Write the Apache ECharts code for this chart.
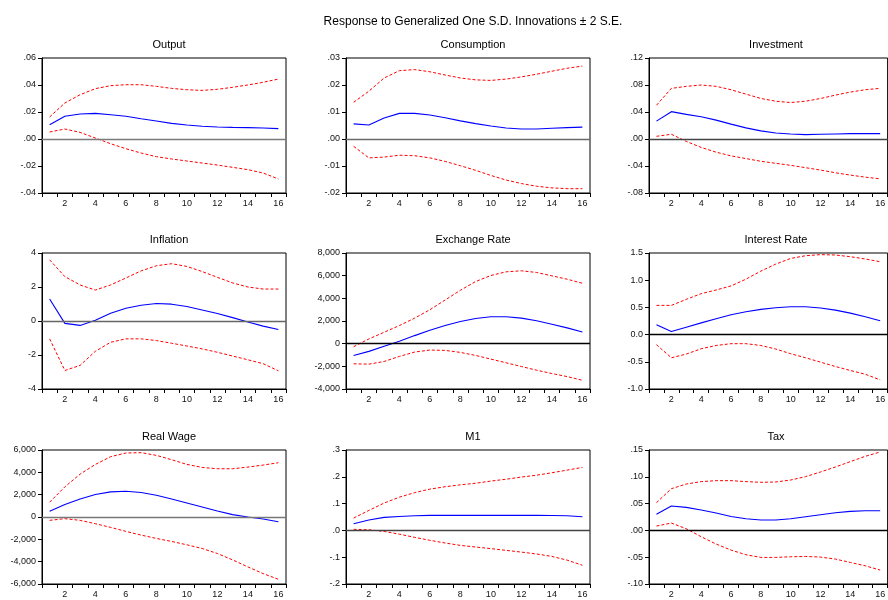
<!DOCTYPE html>
<html>
<head>
<meta charset="utf-8">
<script src="https://cdn.jsdelivr.net/npm/echarts@6/dist/echarts.min.js"></script>
<style>html,body{margin:0;padding:0;background:#fff;}#chart{width:888px;height:600px;}</style>
</head>
<body>
<div id="chart"></div>
<script>
const periods = ['1','2','3','4','5','6','7','8','9','10','11','12','13','14','15','16'];

const outputResp  = [0.0106,0.0168,0.0185,0.0190,0.0180,0.0168,0.0150,0.0133,0.0116,0.0104,0.0094,0.0089,0.0086,0.0084,0.0081,0.0077];
const outputUpper = [0.0163,0.0267,0.0328,0.0373,0.0395,0.0402,0.0402,0.0390,0.0375,0.0365,0.0360,0.0368,0.0383,0.0400,0.0420,0.0444];
const outputLower = [0.0052,0.0074,0.0049,0.0007,-0.0035,-0.0072,-0.0104,-0.0131,-0.0148,-0.0163,-0.0178,-0.0193,-0.0210,-0.0227,-0.0252,-0.0296];

const consResp  = [0.0056,0.0052,0.0078,0.0095,0.0095,0.0089,0.0079,0.0067,0.0057,0.0048,0.0041,0.0037,0.0037,0.0040,0.0042,0.0044];
const consUpper = [0.0136,0.0177,0.0226,0.0253,0.0257,0.0249,0.0237,0.0226,0.0219,0.0217,0.0222,0.0230,0.0240,0.0251,0.0262,0.0270];
const consLower = [-0.0027,-0.0070,-0.0067,-0.0060,-0.0062,-0.0070,-0.0083,-0.0099,-0.0116,-0.0135,-0.0152,-0.0165,-0.0175,-0.0181,-0.0184,-0.0184];

const invResp  = [0.0265,0.0405,0.0365,0.0330,0.0280,0.0220,0.0165,0.0120,0.0090,0.0075,0.0065,0.0070,0.0075,0.0080,0.0080,0.0080];
const invUpper = [0.050,0.075,0.078,0.080,0.078,0.073,0.0665,0.060,0.056,0.054,0.056,0.060,0.065,0.0695,0.073,0.075];
const invLower = [0.004,0.007,-0.0035,-0.0125,-0.0195,-0.025,-0.029,-0.033,-0.036,-0.039,-0.0425,-0.046,-0.050,-0.0535,-0.0565,-0.059];

const inflResp  = [1.29,-0.14,-0.26,0.04,0.46,0.75,0.93,1.03,0.99,0.85,0.65,0.44,0.20,-0.06,-0.30,-0.50];
const inflUpper = [3.60,2.61,2.12,1.82,2.12,2.53,2.95,3.25,3.37,3.21,2.91,2.57,2.24,2.00,1.88,1.88];
const inflLower = [-1.05,-2.91,-2.61,-1.78,-1.25,-1.05,-1.05,-1.15,-1.31,-1.47,-1.64,-1.84,-2.06,-2.28,-2.51,-2.93];

const exchResp  = [-1037,-681,-237,207,711,1185,1600,1956,2222,2370,2370,2252,2015,1718,1393,1037];
const exchUpper = [-267,415,1007,1600,2252,2993,3852,4711,5481,6015,6340,6430,6281,5985,5689,5333];
const exchLower = [-1778,-1807,-1570,-1126,-741,-563,-593,-770,-1037,-1363,-1689,-2015,-2341,-2637,-2904,-3230];

const rateResp  = [0.180,0.056,0.136,0.216,0.290,0.364,0.420,0.463,0.494,0.512,0.512,0.488,0.450,0.395,0.327,0.253];
const rateUpper = [0.537,0.537,0.648,0.753,0.820,0.895,1.019,1.167,1.296,1.400,1.450,1.470,1.463,1.432,1.390,1.340];
const rateLower = [-0.185,-0.426,-0.358,-0.260,-0.200,-0.167,-0.167,-0.200,-0.265,-0.352,-0.426,-0.506,-0.586,-0.660,-0.728,-0.833];

const wageResp  = [510,1110,1620,2010,2250,2310,2190,1950,1620,1260,900,540,210,0,-180,-420];
const wageUpper = [1320,2700,3840,4710,5400,5730,5760,5520,5130,4710,4440,4320,4320,4470,4650,4860];
const wageLower = [-300,-150,-300,-600,-930,-1290,-1620,-1920,-2190,-2490,-2820,-3270,-3840,-4470,-5070,-5580];

const m1Resp  = [0.025,0.0385,0.0485,0.052,0.0547,0.056,0.056,0.056,0.056,0.056,0.056,0.056,0.056,0.0555,0.0547,0.051];
const m1Upper = [0.046,0.0745,0.102,0.124,0.141,0.154,0.163,0.170,0.176,0.184,0.191,0.199,0.206,0.215,0.225,0.235];
const m1Lower = [0.004,0.0025,-0.004,-0.014,-0.026,-0.037,-0.047,-0.056,-0.062,-0.068,-0.0745,-0.081,-0.088,-0.097,-0.111,-0.130];

const taxResp  = [0.0300,0.0455,0.0430,0.0380,0.0324,0.0260,0.0218,0.0193,0.0193,0.0218,0.0255,0.0293,0.0330,0.0355,0.0367,0.0367];
const taxUpper = [0.0517,0.0778,0.0865,0.0910,0.0928,0.0928,0.0910,0.0897,0.0903,0.0940,0.1003,0.1090,0.1183,0.1283,0.1382,0.1463];
const taxLower = [0.0081,0.0137,0.0031,-0.0118,-0.0255,-0.0367,-0.0454,-0.0504,-0.0504,-0.0492,-0.0486,-0.0498,-0.0535,-0.0598,-0.0660,-0.0740];

const panelTitles = ['Output','Consumption','Investment','Inflation','Exchange Rate','Interest Rate','Real Wage','M1','Tax'];
const yMin = [-0.04,-0.02,-0.08,-4,-4000,-1.0,-6000,-0.2,-0.10];
const yMax = [0.06,0.03,0.12,4,8000,1.5,6000,0.3,0.15];
const yStep = [0.02,0.01,0.04,2,2000,0.5,2000,0.1,0.05];
const yDecimals = [2,2,2,0,0,1,0,1,2];
const yStripZero = [true,true,true,false,false,false,false,true,true];
const mainTitle = 'Response to Generalized One S.D. Innovations \u00B1 2 S.E.';

const panels = [
  [outputResp, outputUpper, outputLower],
  [consResp, consUpper, consLower],
  [invResp, invUpper, invLower],
  [inflResp, inflUpper, inflLower],
  [exchResp, exchUpper, exchLower],
  [rateResp, rateUpper, rateLower],
  [wageResp, wageUpper, wageLower],
  [m1Resp, m1Upper, m1Lower],
  [taxResp, taxUpper, taxLower]
];

const colLeft = [42, 346, 649];
const rowTop = [58, 253, 450];
const rowH = [135, 136, 134];
const W = 244;
const FONT = '"Liberation Sans", Arial, sans-serif';
const zeroColors = ['#7a7a7a','#6a6a6a','#444','#666','#000','#000','#777','#444','#000'];

function fmt(i) {
  return function (v) {
    const d = yDecimals[i];
    let s = Math.abs(v).toFixed(d);
    if (d === 0) s = Number(s).toLocaleString('en-US');
    if (yStripZero[i] && s.charAt(0) === '0') s = s.substring(1);
    if (Math.abs(v) > 1e-12) s = (v < 0 ? '-' : '') + s;
    return s;
  };
}

const grids = [], xAxes = [], yAxes = [], series = [], titles = [];
titles.push({ text: mainTitle, left: 468, top: 11, textAlign: 'center',
  textStyle: { fontFamily: FONT, fontSize: 12, fontWeight: 'normal', color: '#000' } });

panels.forEach(function (p, i) {
  const r = Math.floor(i / 3), c = i % 3;
  grids.push({ left: colLeft[c], top: rowTop[r], width: W, height: rowH[r],
    show: true, borderColor: '#000', borderWidth: 1, containLabel: false });
  titles.push({ text: panelTitles[i], left: colLeft[c] + W / 2, top: rowTop[r] - 24, textAlign: 'center',
    textStyle: { fontFamily: FONT, fontSize: 11, fontWeight: 'normal', color: '#000' } });
  xAxes.push({ type: 'category', gridIndex: i, data: periods, boundaryGap: true,
    axisLine: { onZero: false, lineStyle: { color: '#000', width: 1 } },
    axisTick: { show: true, interval: 0, length: 4, lineStyle: { color: '#000' } },
    axisLabel: { interval: function (idx) { return idx % 2 === 1; }, fontSize: 9, fontFamily: FONT, color: '#111', margin: 6 },
    splitLine: { show: false } });
  yAxes.push({ type: 'value', gridIndex: i, min: yMin[i], max: yMax[i], interval: yStep[i],
    axisLine: { show: true, lineStyle: { color: '#000', width: 1 } },
    axisTick: { show: true, length: 4, lineStyle: { color: '#000' } },
    axisLabel: { formatter: fmt(i), fontSize: 9, fontFamily: FONT, color: '#111', margin: 6 },
    splitLine: { show: false } });
  series.push({ type: 'line', xAxisIndex: i, yAxisIndex: i, data: p[0], symbol: 'none',
    lineStyle: { color: '#0000ff', width: 1.1 }, z: 3,
    markLine: { silent: true, symbol: 'none', label: { show: false },
      lineStyle: { color: zeroColors[i], type: 'solid', width: 1.3 }, data: [{ yAxis: 0 }] } });
  series.push({ type: 'line', xAxisIndex: i, yAxisIndex: i, data: p[1], symbol: 'none',
    lineStyle: { color: '#ff0000', width: 1, type: [3, 2] }, z: 3 });
  series.push({ type: 'line', xAxisIndex: i, yAxisIndex: i, data: p[2], symbol: 'none',
    lineStyle: { color: '#ff0000', width: 1, type: [3, 2] }, z: 3 });
});

const chart = echarts.init(document.getElementById('chart'), null, { renderer: 'canvas' });
chart.setOption({
  animation: false,
  backgroundColor: '#fff',
  title: titles,
  grid: grids,
  xAxis: xAxes,
  yAxis: yAxes,
  series: series
});
</script>
</body>
</html>
